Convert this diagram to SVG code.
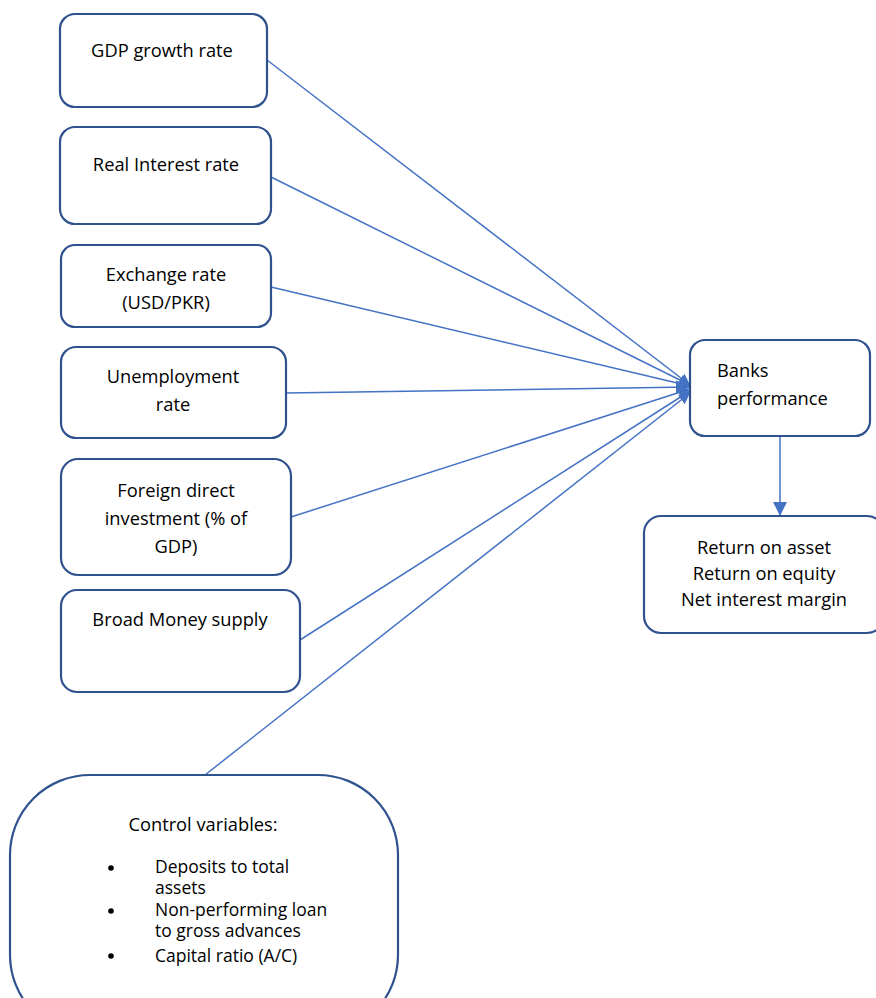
<svg xmlns="http://www.w3.org/2000/svg" width="876" height="998" viewBox="0 0 876 998">
<style>
.box{fill:#fff;stroke:#2F528F;stroke-width:2.2}
.t{font-family:"Open Sans","Liberation Sans",sans-serif;font-size:18.3px;fill:#000}
.s{font-size:17.5px}
.c{text-anchor:middle}
.ln{stroke:#4472C4;stroke-width:1.5;fill:none}
</style>
<defs>
<marker id="ah" viewBox="0 0 10 10" refX="10" refY="5" markerWidth="11" markerHeight="11" markerUnits="userSpaceOnUse" orient="auto">
<path d="M0,0 L10,5 L0,10 z" fill="#4472C4"/>
</marker>
<marker id="ah2" viewBox="0 0 10 10" refX="10" refY="5" markerWidth="14" markerHeight="14" markerUnits="userSpaceOnUse" orient="auto">
<path d="M0,0 L10,5 L0,10 z" fill="#4472C4"/>
</marker>
</defs>
<rect width="876" height="998" fill="#fff"/>
<g id="connectors">
<line class="ln" x1="267" y1="60" x2="690" y2="385" marker-end="url(#ah)"/>
<line class="ln" x1="271" y1="177" x2="690" y2="385" marker-end="url(#ah)"/>
<line class="ln" x1="271" y1="287" x2="690" y2="386" marker-end="url(#ah)"/>
<line class="ln" x1="286" y1="393" x2="690" y2="387" marker-end="url(#ah2)"/>
<line class="ln" x1="291" y1="517" x2="690" y2="389" marker-end="url(#ah)"/>
<line class="ln" x1="300" y1="640" x2="690" y2="391" marker-end="url(#ah)"/>
<line class="ln" x1="205" y1="775" x2="690" y2="393" marker-end="url(#ah)"/>
<line class="ln" x1="780" y1="436" x2="780" y2="516" marker-end="url(#ah2)"/>
</g>
<g id="gdp">
<rect class="box" x="60" y="14" width="207" height="93" rx="15"/>
<text class="t c" x="162" y="57">GDP growth rate</text>
</g>
<g id="interest">
<rect class="box" x="60" y="127" width="211" height="97" rx="15"/>
<text class="t c" x="166" y="171">Real Interest rate</text>
</g>
<g id="exchange">
<rect class="box" x="61" y="245" width="210" height="82" rx="14"/>
<text class="t c" x="166" y="281">Exchange rate</text>
<text class="t c" x="166" y="309">(USD/PKR)</text>
</g>
<g id="unemployment">
<rect class="box" x="61" y="347" width="225" height="91" rx="15"/>
<text class="t c" x="173" y="383">Unemployment</text>
<text class="t c" x="173" y="411">rate</text>
</g>
<g id="fdi">
<rect class="box" x="61" y="459" width="230" height="116" rx="17"/>
<text class="t c" x="176" y="497">Foreign direct</text>
<text class="t c" x="176" y="525">investment (% of</text>
<text class="t c" x="176" y="553">GDP)</text>
</g>
<g id="money">
<rect class="box" x="61" y="590" width="239" height="102" rx="16"/>
<text class="t c" x="180" y="626">Broad Money supply</text>
</g>
<g id="banks">
<rect class="box" x="690" y="340" width="180" height="96" rx="15"/>
<text class="t" x="717" y="377">Banks</text>
<text class="t" x="717" y="405">performance</text>
</g>
<g id="returns">
<rect class="box" x="644" y="516" width="240" height="117" rx="17"/>
<text class="t c" x="764" y="554">Return on asset</text>
<text class="t c" x="764" y="580">Return on equity</text>
<text class="t c" x="764" y="606">Net interest margin</text>
</g>
<g id="control">
<rect class="box" x="10" y="775" width="388" height="260" rx="80"/>
<text class="t c" x="203" y="831">Control variables:</text>
<circle cx="111" cy="868" r="2.8" fill="#000"/>
<circle cx="111" cy="911" r="2.8" fill="#000"/>
<circle cx="111" cy="956" r="2.8" fill="#000"/>
<text class="t s" x="155" y="873">Deposits to total</text>
<text class="t s" x="155" y="894">assets</text>
<text class="t s" x="155" y="916">Non-performing loan</text>
<text class="t s" x="155" y="937">to gross advances</text>
<text class="t s" x="155" y="962">Capital ratio (A/C)</text>
</g>
</svg>
